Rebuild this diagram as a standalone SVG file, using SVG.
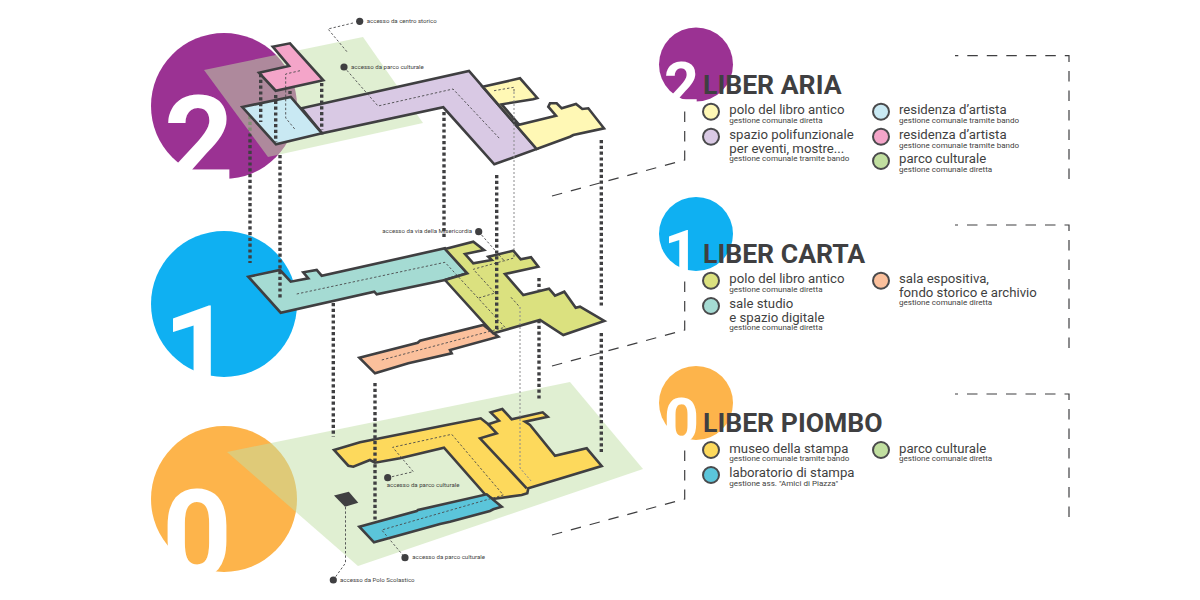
<svg xmlns="http://www.w3.org/2000/svg" width="1200" height="600" viewBox="0 0 1200 600">
<style>
text{font-family:Roboto,"Liberation Sans",sans-serif;fill:#3f3f41}
.digit{font-weight:700;font-size:122px;fill:#fff}
.digit-s{font-weight:700;font-size:61px;fill:#fff}
.title{font-weight:700;font-size:26.6px}
.item{font-size:13.2px}
.sub{font-size:8.05px}
.tag{font-size:6.1px}
.plan{stroke:#3f3f41;stroke-width:2.6;stroke-linejoin:miter}
.park{fill:#c1dfa5;opacity:.5}
.swatch{stroke:#4a4a4c;stroke-width:2}
.pillar{fill:none;stroke:#3f3f41;stroke-width:3.4;stroke-dasharray:3.2 2.6}
.route{fill:none;stroke:#4a4a4c;stroke-width:.9;stroke-dasharray:2.4 2}
.shaft{fill:none;stroke:#8a8a8c;stroke-width:1;stroke-dasharray:2 2}
.frame{fill:none;stroke:#3f3f41;stroke-width:1.2;stroke-dasharray:10.5 9}
.dot{fill:#3f3f41}
</style>

<g id="badges">
  <circle cx="224" cy="106" r="73" fill="#9b3293"/>
  <text class="digit" x="164" y="183">2</text>
  <circle cx="224" cy="304" r="73" fill="#0fb0f2"/>
  <text class="digit" x="163" y="393">1</text>
  <circle cx="224" cy="499" r="73" fill="#fdb44b"/>
  <text class="digit" x="162" y="577">0</text>
</g>

<g id="connectors-back">
  <path class="pillar" d="M250 116V263"/>
</g>

<g id="level-2">
  <polygon class="park" points="204,70 363,37 423,123 268,157"/>
  <polygon class="plan" fill="#d9c9e4" points="301.7,108.3 469,71 536.7,149 494.3,164.3 443.3,107.3 322,133.3"/>
  <polygon class="plan" fill="#fff8b5" points="482.7,86.7 520,78.3 537.3,98 533,99.3 501.7,104.3 519,124.7 556,115.7 548.3,106.7 550,103.3 556.7,103.3 561.7,108.3 576,104 582.3,109 588.3,108.3 604,128.3 573.3,135 570,136.7 536.7,149"/>
  <polygon class="plan" fill="#c9e9f3" points="242.3,107 290.7,97 322,133.3 276,144.3"/>
  <polygon class="plan" fill="#f4a5c9" points="272.7,46.7 290,43.3 323.3,80.3 275.7,90.7 259,72.7 289,66"/>
</g>

<g id="level-1">
  <polygon class="plan" fill="#a5dbd3" points="248.3,276.7 280,270 290.7,281.7 308.3,278.3 303.3,272.3 316.7,270 321.7,275.7 445,248.3 467.3,273.3 445,280 376.7,294.3 374.3,291.7 280.7,312.7"/>
  <polygon class="plan" fill="#fbc09c" points="359.3,357.7 417.7,342.7 420,340.7 483.3,325 498.3,336.7 450,350 451.7,353.3 408.3,363.3 375,373.3"/>
  <polygon class="plan" fill="#dbe17f" points="445,249 473.3,241.7 484,250 465,254 473.3,263.3 491.7,260 488.3,256.7 513.3,250.7 520.7,259.3 531,257.3 538.3,266.7 505,274 523.3,295 549,288.7 555,295.7 564.3,291.7 575.7,307.7 580,306.7 604.3,321 563.3,335 540,320 493.3,333.3 445,280 467.3,273.3"/>
</g>

<g id="level-0">
  <polygon class="park" points="227,452 570,382 643,469 358,566"/>
  <polygon class="plan" fill="#fdd95c" points="334,450 360,442.3 446.7,425 480.7,418.3 488.3,424.3 499,420.7 490.7,412.3 502.3,409 511.7,419.3 542.7,412.3 547.7,416.7 525,421.7 530,425 555,455.7 586.7,448.3 601.7,466 528.3,488.3 527.3,493.3 521.7,495 493,499 485,494.3 444,447.7 400,458.3 375,462.7 370,460 353.3,466.7 348.3,465.7"/>
  <path class="plan" fill="none" d="M488.3 424.3L496.7 433.3L480 438.3L526.7 488.3"/>
  <polygon class="plan" fill="#5bc5da" points="359.3,526.7 416.7,511 418,510 486.7,494.3 501.7,506.7 493.3,509.3 490,511 450,521.7 440,524 374,542.3"/>
  <polygon class="dot" points="334,495.5 348.8,491.7 358.3,502.7 345,506.7"/>
</g>

<g id="connectors">
  <path class="route" d="M353 23L328 29L348 53"/>
  <path class="route" d="M344 67L378 106L453 89L500 139"/>
  <path class="route" d="M494 90.7L514 87.3V92"/>
  <path class="route" d="M514 250V258L473.3 269.3L495 293L477.7 298.3"/>
  <path class="route" d="M300 70.7L285.7 74V118L295 129.3"/>
  <path class="route" d="M296.7 294L445 262.3L505 327.3L381.7 360"/>
  <path class="route" d="M478.7 231.7L505 261.7"/>
  <path class="route" d="M511 297.3L520 307.3"/>
  <path class="shaft" d="M514 92V250"/>
  <path class="shaft" d="M520 307V468L531.7 481.7"/>
  <path class="route" d="M387.7 477.7L413.3 471.7L392.7 447.3L451.7 434.3L503.3 495L381.7 530L405 557.7"/>
  <path class="route" d="M345.5 507V563L333.3 580"/>
  <path class="pillar" d="M260.7 74V122M275.7 95V142M290 91V94M321.7 83V130"/>
  <path class="pillar" d="M280 155V300M444 112V238M496.7 175V330M601.3 140V306M601.3 333V452"/>
  <path class="pillar" d="M539 278V290M539 320V400M333.3 303V437M375 383V520"/>
  <path class="frame" d="M1069 179V55.7H955M552 196L684.7 160V110"/>
  <path class="frame" d="M1069 348V225H955M552 366L684.7 330V280"/>
  <path class="frame" d="M1069 517V394H955M552 535L684.7 499V450"/>
</g>

<g id="access-points">
  <circle class="dot" cx="359.7" cy="21.3" r="3.6"/><text class="tag" x="366.7" y="23">accesso da centro storico</text>
  <circle class="dot" cx="344" cy="67" r="3.6"/><text class="tag" x="351" y="69">accesso da parco culturale</text>
  <circle class="dot" cx="478.7" cy="231.7" r="3.6"/><text class="tag" x="382.3" y="233">accesso da via della Misericordia</text>
  <circle class="dot" cx="387.7" cy="477.7" r="3.6"/><text class="tag" x="386.7" y="487.3">accesso da parco culturale</text>
  <circle class="dot" cx="405" cy="557.7" r="3.6"/><text class="tag" x="412.3" y="559.3">accesso da parco culturale</text>
  <circle class="dot" cx="333.3" cy="580" r="3.6"/><text class="tag" x="340" y="581.7">accesso da Polo Scolastico</text>
</g>

<g id="legend-aria">
  <circle cx="696" cy="64.5" r="37" fill="#9b3293"/>
  <text class="digit-s" x="664" y="106">2</text>
  <text class="title" x="703" y="94">LIBER ARIA</text>
  <circle class="swatch" cx="711" cy="111.7" r="8" fill="#fff8b5"/>
  <text class="item" x="729.3" y="114">polo del libro antico</text><text class="sub" x="729.3" y="123">gestione comunale diretta</text>
  <circle class="swatch" cx="711" cy="136.7" r="8" fill="#d9c9e4"/>
  <text class="item" x="729.3" y="139">spazio polifunzionale</text><text class="item" x="729.3" y="152.7">per eventi, mostre...</text><text class="sub" x="729.3" y="160.7">gestione comunale tramite bando</text>
  <circle class="swatch" cx="881" cy="111.7" r="8" fill="#c9e9f3"/>
  <text class="item" x="899" y="114">residenza d’artista</text><text class="sub" x="899" y="123">gestione comunale tramite bando</text>
  <circle class="swatch" cx="881" cy="136.7" r="8" fill="#f4a5c9"/>
  <text class="item" x="899" y="139">residenza d’artista</text><text class="sub" x="899" y="148">gestione comunale tramite bando</text>
  <circle class="swatch" cx="881" cy="161" r="8" fill="#c1dfa0"/>
  <text class="item" x="899" y="163">parco culturale</text><text class="sub" x="899" y="172">gestione comunale diretta</text>
</g>

<g id="legend-carta">
  <circle cx="696" cy="234" r="37" fill="#0fb0f2"/>
  <text class="digit-s" x="664" y="274">1</text>
  <text class="title" x="703" y="263">LIBER CARTA</text>
  <circle class="swatch" cx="711" cy="280.7" r="8" fill="#dbe17f"/>
  <text class="item" x="729.3" y="283">polo del libro antico</text><text class="sub" x="729.3" y="291.7">gestione comunale diretta</text>
  <circle class="swatch" cx="711" cy="306" r="8" fill="#a5dbd3"/>
  <text class="item" x="729.3" y="308">sale studio</text><text class="item" x="729.3" y="321.7">e spazio digitale</text><text class="sub" x="729.3" y="330">gestione comunale diretta</text>
  <circle class="swatch" cx="881" cy="280.7" r="8" fill="#fbc09c"/>
  <text class="item" x="899" y="283">sala espositiva,</text><text class="item" x="899" y="296.7">fondo storico e archivio</text><text class="sub" x="899" y="305">gestione comunale diretta</text>
</g>

<g id="legend-piombo">
  <circle cx="696" cy="403" r="37" fill="#fdb44b"/>
  <text class="digit-s" x="664" y="442">0</text>
  <text class="title" x="703" y="432">LIBER PIOMBO</text>
  <circle class="swatch" cx="711" cy="450" r="8" fill="#fdd95c"/>
  <text class="item" x="729.3" y="452.7">museo della stampa</text><text class="sub" x="729.3" y="461">gestione comunale tramite bando</text>
  <circle class="swatch" cx="711" cy="475" r="8" fill="#5bc5da"/>
  <text class="item" x="729.3" y="477">laboratorio di stampa</text><text class="sub" x="729.3" y="486">gestione ass. "Amici di Piazza"</text>
  <circle class="swatch" cx="881" cy="450" r="8" fill="#c1dfa0"/>
  <text class="item" x="899" y="452.7">parco culturale</text><text class="sub" x="899" y="461">gestione comunale diretta</text>
</g>
</svg>
